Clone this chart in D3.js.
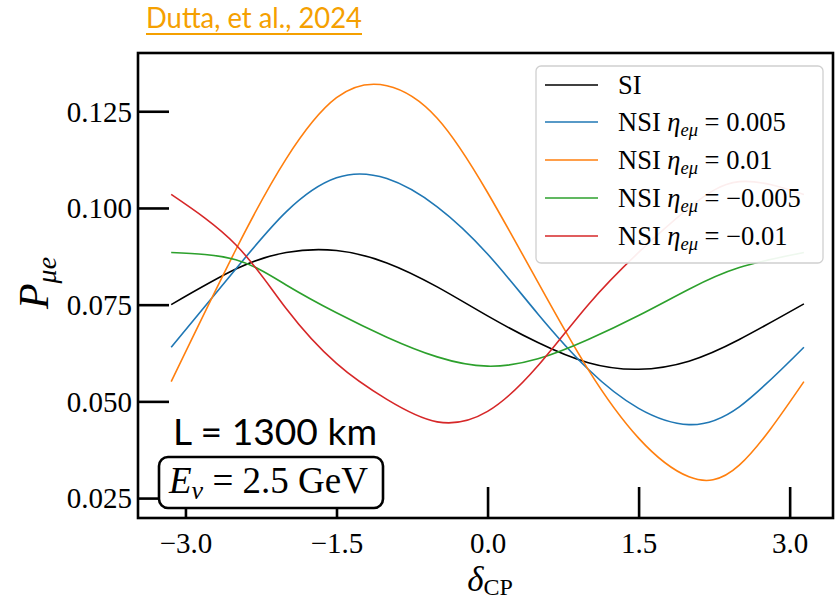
<!DOCTYPE html>
<html>
<head>
<meta charset="utf-8">
<script src="https://cdn.jsdelivr.net/npm/d3@7"></script>
<style>
  html, body { margin: 0; padding: 0; background: #fff; }
  svg { display: block; }
</style>
</head>
<body>
<svg id="chart" width="835" height="603"></svg>
<script>
// ---------- data ----------
const deltaCP = [-3.1416, -2.5, -2.0, -1.5, -1.0, -0.5, 0.0, 0.5, 1.0, 1.5, 2.0, 2.5, 3.1416];
const siValues      = [0.0750, 0.0842, 0.0885, 0.0890, 0.0858, 0.0796, 0.0721, 0.0652, 0.0600, 0.0583, 0.0604, 0.0660, 0.0752];
const nsi005Values  = [0.0640, 0.0842, 0.0990, 0.1078, 0.1076, 0.1003, 0.0881, 0.0726, 0.0583, 0.0482, 0.0440, 0.0486, 0.0640];
const nsi01Values   = [0.0551, 0.0892, 0.1127, 0.1285, 0.1316, 0.1232, 0.1040, 0.0808, 0.0582, 0.0405, 0.0305, 0.0335, 0.0551];
const nsiM005Values = [0.0885, 0.0866, 0.0801, 0.0729, 0.0666, 0.0615, 0.0591, 0.0610, 0.0660, 0.0722, 0.0790, 0.0846, 0.0885];
const nsiM01Values  = [0.1035, 0.0905, 0.0740, 0.0598, 0.0505, 0.0447, 0.0474, 0.0592, 0.0750, 0.0885, 0.1000, 0.1068, 0.1035];

const xTicks = [-3.0, -1.5, 0.0, 1.5, 3.0];
const yTicks = [0.025, 0.050, 0.075, 0.100, 0.125];

const seriesNames  = ["SI", "0.005", "0.01", "−0.005", "−0.01"];
const seriesColors = ["#000000", "#1f77b4", "#ff7f0e", "#2ca02c", "#d62728"];
const seriesValues = [siValues, nsi005Values, nsi01Values, nsiM005Values, nsiM01Values];

// ---------- layout ----------
const svg = d3.select("#chart");
const L = 138, R = 833, T = 53, B = 518;
const serif = "'Liberation Serif', 'DejaVu Serif', serif";
const sans = "Lato, 'Open Sans', sans-serif";

const x = d3.scaleLinear().domain([-3.4712, 3.4305]).range([L, R]);
const y = d3.scaleLinear().domain([0.01985, 0.14006]).range([B, T]);

// clip
svg.append("defs").append("clipPath").attr("id", "plotclip")
  .append("rect").attr("x", L).attr("y", T).attr("width", R - L).attr("height", B - T);

// curves
const line = d3.line()
  .x((d, i) => x(deltaCP[i]))
  .y(d => y(d))
  .curve(d3.curveNatural);

const curves = svg.append("g").attr("clip-path", "url(#plotclip)");
seriesValues.forEach((vals, k) => {
  curves.append("path")
    .attr("d", line(vals))
    .attr("fill", "none")
    .attr("stroke", seriesColors[k])
    .attr("stroke-width", 1.6);
});

// axes (ticks pointing inward)
const yAxis = d3.axisLeft(y).tickValues(yTicks).tickFormat(d3.format(".3f"))
  .tickSizeInner(-31).tickSizeOuter(0).tickPadding(6);
const gy = svg.append("g").attr("transform", `translate(${L},0)`).call(yAxis);
gy.select(".domain").remove();
gy.selectAll("line").attr("stroke", "#000").attr("stroke-width", 2.6);
gy.selectAll("text").attr("font-family", serif).attr("font-size", 29).attr("fill", "#000")
  .attr("dy", "0.34em");

const xAxis = d3.axisBottom(x).tickValues(xTicks)
  .tickFormat(d => (d < 0 ? "−" : "") + d3.format(".1f")(Math.abs(d)))
  .tickSizeInner(-31).tickSizeOuter(0);
const gx = svg.append("g").attr("transform", `translate(0,${B})`).call(xAxis);
gx.select(".domain").remove();
gx.selectAll("line").attr("stroke", "#000").attr("stroke-width", 2.6);
gx.selectAll("text").attr("font-family", serif).attr("font-size", 29).attr("fill", "#000")
  .attr("dy", null).attr("y", 35);

// frame
svg.append("rect").attr("x", L).attr("y", T).attr("width", R - L).attr("height", B - T)
  .attr("fill", "none").attr("stroke", "#000").attr("stroke-width", 2.6);

// axis labels
const xl = svg.append("text").attr("x", 490).attr("y", 591)
  .attr("text-anchor", "middle").attr("font-family", serif).attr("fill", "#000");
xl.append("tspan").attr("font-size", 35).attr("font-style", "italic").text("δ");
xl.append("tspan").attr("font-size", 24).attr("dy", 4).text("CP");

const yl = svg.append("text").attr("transform", "translate(48,283) rotate(-90)")
  .attr("text-anchor", "middle").attr("font-family", serif).attr("fill", "#000");
yl.append("tspan").attr("font-size", 42).attr("font-style", "italic").text("P");
yl.append("tspan").attr("font-size", 28).attr("font-style", "italic").attr("dy", 8).text("μe");

// legend
const lg = svg.append("g");
lg.append("rect").attr("x", 536).attr("y", 66).attr("width", 287).attr("height", 197)
  .attr("rx", 5).attr("fill", "#fff").attr("fill-opacity", 0.92)
  .attr("stroke", "#d0d0d0").attr("stroke-width", 1.3);
const rowY = [85, 122, 160, 198, 236];
seriesNames.forEach((name, k) => {
  lg.append("line").attr("x1", 545).attr("x2", 598).attr("y1", rowY[k]).attr("y2", rowY[k])
    .attr("stroke", seriesColors[k]).attr("stroke-width", 1.6);
  const t = lg.append("text").attr("x", 618).attr("y", rowY[k] + 9)
    .attr("font-family", serif).attr("font-size", 26.5).attr("fill", "#000");
  if (k === 0) {
    t.text("SI");
  } else {
    t.append("tspan").text("NSI ");
    t.append("tspan").attr("font-style", "italic").text("η");
    t.append("tspan").attr("font-style", "italic").attr("font-size", 18.5).attr("dy", 5).text("eμ");
    t.append("tspan").attr("dy", -5).text(" = " + name);
  }
});

// annotations
svg.append("text").attr("x", 173).attr("y", 445)
  .attr("font-family", sans).attr("font-size", 37).attr("fill", "#000")
  .attr("textLength", 204).attr("lengthAdjust", "spacingAndGlyphs")
  .text("L = 1300 km");

svg.append("rect").attr("x", 159).attr("y", 457).attr("width", 224).attr("height", 51)
  .attr("rx", 9).attr("fill", "#fff").attr("stroke", "#000").attr("stroke-width", 2.6);
const et = svg.append("text").attr("x", 169).attr("y", 493)
  .attr("font-family", serif).attr("font-size", 37).attr("fill", "#000");
et.append("tspan").attr("font-style", "italic").text("E");
et.append("tspan").attr("font-style", "italic").attr("font-size", 26).attr("dy", 6).text("ν");
et.append("tspan").attr("dy", -6).text(" = 2.5 GeV");

// title
svg.append("text").attr("x", 146).attr("y", 28)
  .attr("font-family", sans).attr("font-size", 28).attr("fill", "#f5a000")
  .attr("textLength", 216).attr("lengthAdjust", "spacingAndGlyphs")
  .text("Dutta, et al., 2024");
svg.append("line").attr("x1", 146).attr("x2", 362).attr("y1", 34).attr("y2", 34)
  .attr("stroke", "#f5a000").attr("stroke-width", 2);
</script>
</body>
</html>
